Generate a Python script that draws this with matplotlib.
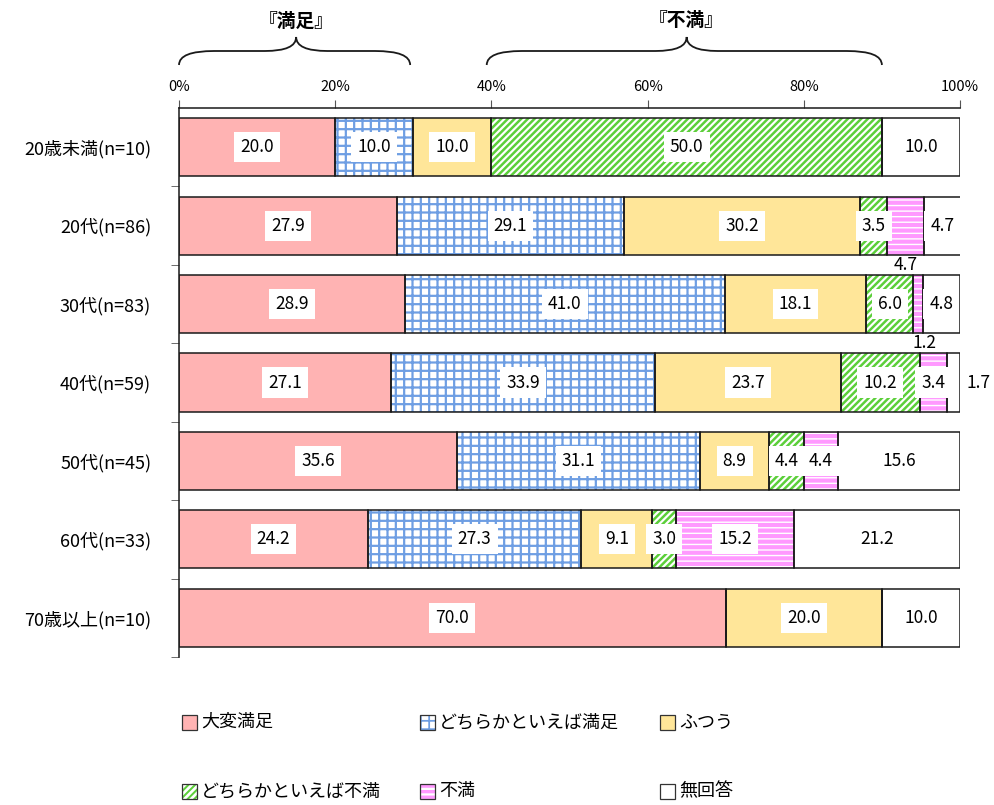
import matplotlib
matplotlib.use("Agg")
import matplotlib.pyplot as plt
from matplotlib.patches import Rectangle, PathPatch
from matplotlib.path import Path
from matplotlib.transforms import blended_transform_factory
import numpy as np

plt.rcParams['font.family'] = ['Noto Sans CJK JP', 'DejaVu Sans']

categories = ['20歳未満(n=10)', '20代(n=86)', '30代(n=83)', '40代(n=59)',
              '50代(n=45)', '60代(n=33)', '70歳以上(n=10)']
series_names = ['大変満足', 'どちらかといえば満足', 'ふつう',
                'どちらかといえば不満', '不満', '無回答']
very_satisfied = [20.0, 27.9, 28.9, 27.1, 35.6, 24.2, 70.0]
somewhat_satisfied = [10.0, 29.1, 41.0, 33.9, 31.1, 27.3, 0.0]
neutral = [10.0, 30.2, 18.1, 23.7, 8.9, 9.1, 20.0]
somewhat_dissatisfied = [50.0, 3.5, 6.0, 10.2, 4.4, 3.0, 0.0]
dissatisfied = [0.0, 4.7, 1.2, 3.4, 4.4, 15.2, 0.0]
no_answer = [10.0, 4.7, 4.8, 1.7, 15.6, 21.2, 10.0]
x_ticks = [0, 20, 40, 60, 80, 100]
brace_labels = ['『満足』', '『不満』']

series = [very_satisfied, somewhat_satisfied, neutral,
          somewhat_dissatisfied, dissatisfied, no_answer]
faces = ['#FFB3B3', 'white', '#FFE699', 'white', 'white', 'white']
hatches = [None, '++', None, '/////', '---', None]
hcolors = [None, '#6E9EE3', None, '#5CCF3A', '#FF99FF', None]
hlws = [1.0, 1.6, 1.0, 1.8, 3.0, 1.0]

W, H = 995, 805
fig = plt.figure(figsize=(W / 100, H / 100), dpi=100)
ax = fig.add_axes([179 / W, 1 - 657 / H, 781 / W, (657 - 108) / H])

y = np.arange(len(categories))
bh = 0.74
left = np.zeros(len(categories))
for j, vals in enumerate(series):
    vals = np.array(vals)
    if hatches[j]:
        with plt.rc_context({'hatch.linewidth': hlws[j], 'hatch.color': hcolors[j]}):
            ax.barh(y, vals, left=left, height=bh, color=faces[j],
                    edgecolor=hcolors[j], hatch=hatches[j], linewidth=0, zorder=2)
    else:
        ax.barh(y, vals, left=left, height=bh, color=faces[j], linewidth=0, zorder=2)
    ax.barh(y, vals, left=left, height=bh, fill=False, edgecolor='#1a1a1a',
            linewidth=1.1, zorder=3)
    for i, v in enumerate(vals):
        if v <= 0:
            continue
        xc = left[i] + v / 2
        yc = y[i]
        box = dict(boxstyle='square,pad=0.35', fc='white', ec='none')
        if j == 4 and i == 1:
            yc = y[i] + 0.5; box = None
        elif j == 4 and i == 2:
            xc += 0.9; yc = y[i] + 0.5; box = None
        elif j == 5 and i == 3:
            xc = 102.4; box = None
        ax.text(xc, yc, f'{v:.1f}', ha='center', va='center', fontsize=12.5,
                bbox=box, zorder=5)
    left = left + vals

ax.set_xlim(0, 100)
ax.set_ylim(len(categories) - 0.5, -0.5)
ax.xaxis.tick_top()
ax.set_xticks(x_ticks)
ax.set_xticklabels([f'{t}%' for t in x_ticks], fontsize=10.5)
ax.tick_params(axis='x', direction='out', length=6, color='#555555', pad=4)
ax.set_yticks(y)
ax.set_yticklabels(categories, fontsize=13)
ax.set_yticks(np.arange(len(categories)) + 0.5, minor=True)
ax.tick_params(axis='y', which='major', length=0, pad=20)
ax.tick_params(axis='y', which='minor', length=6, color='#555555', direction='out')
for s in ['right', 'bottom']:
    ax.spines[s].set_visible(False)
for s in ['top', 'left']:
    ax.spines[s].set_color('#1a1a1a')
    ax.spines[s].set_linewidth(1.1)

# braces
tr = blended_transform_factory(ax.transData, fig.transFigure)
def fy(px):
    return 1 - px / H

def brace(x0, x1, xm, re=4.5, rt=4.0):
    yb, yh, yt = fy(65), fy(51), fy(37)
    verts = [(x0, yb), (x0, yh), (x0 + re, yh), (xm - rt, yh), (xm, yh), (xm, yt),
             (xm, yh), (xm + rt, yh), (x1 - re, yh), (x1, yh), (x1, yb)]
    codes = [Path.MOVETO, Path.CURVE3, Path.CURVE3, Path.LINETO, Path.CURVE3, Path.CURVE3,
             Path.CURVE3, Path.CURVE3, Path.LINETO, Path.CURVE3, Path.CURVE3]
    p = PathPatch(Path(verts, codes), transform=tr, fill=False, ec='#1a1a1a',
                  lw=1.3, clip_on=False)
    fig.add_artist(p)

brace(0.0, 29.6, 15.0)
brace(39.4, 90.0, 65.0)
ax.text(15.0, fy(21), brace_labels[0], transform=tr, ha='center', va='center',
        fontsize=13.5, fontweight='bold')
ax.text(65.0, fy(21), brace_labels[1], transform=tr, ha='center', va='center',
        fontsize=13.5, fontweight='bold')

# legend
leg_pos = [(182, 722), (420, 722), (660, 722), (182, 791), (420, 791), (660, 791)]
sq = 15
for j, (px, py) in enumerate(leg_pos):
    kw = dict(transform=fig.transFigure, clip_on=False)
    if hatches[j]:
        with plt.rc_context({'hatch.linewidth': hlws[j] * 0.8, 'hatch.color': hcolors[j]}):
            r1 = Rectangle((px / W, fy(py + sq / 2)), sq / W, sq / H, facecolor=faces[j],
                           edgecolor=hcolors[j], hatch=hatches[j], linewidth=0, **kw)
        fig.add_artist(r1)
    else:
        fig.add_artist(Rectangle((px / W, fy(py + sq / 2)), sq / W, sq / H,
                                 facecolor=faces[j], linewidth=0, **kw))
    fig.add_artist(Rectangle((px / W, fy(py + sq / 2)), sq / W, sq / H, fill=False,
                             edgecolor='#333333', linewidth=0.9, **kw))
    fig.text((px + sq + 4) / W, fy(py), series_names[j], ha='left', va='center',
             fontsize=13)

fig.savefig('out.png', dpi=100, facecolor='white')
